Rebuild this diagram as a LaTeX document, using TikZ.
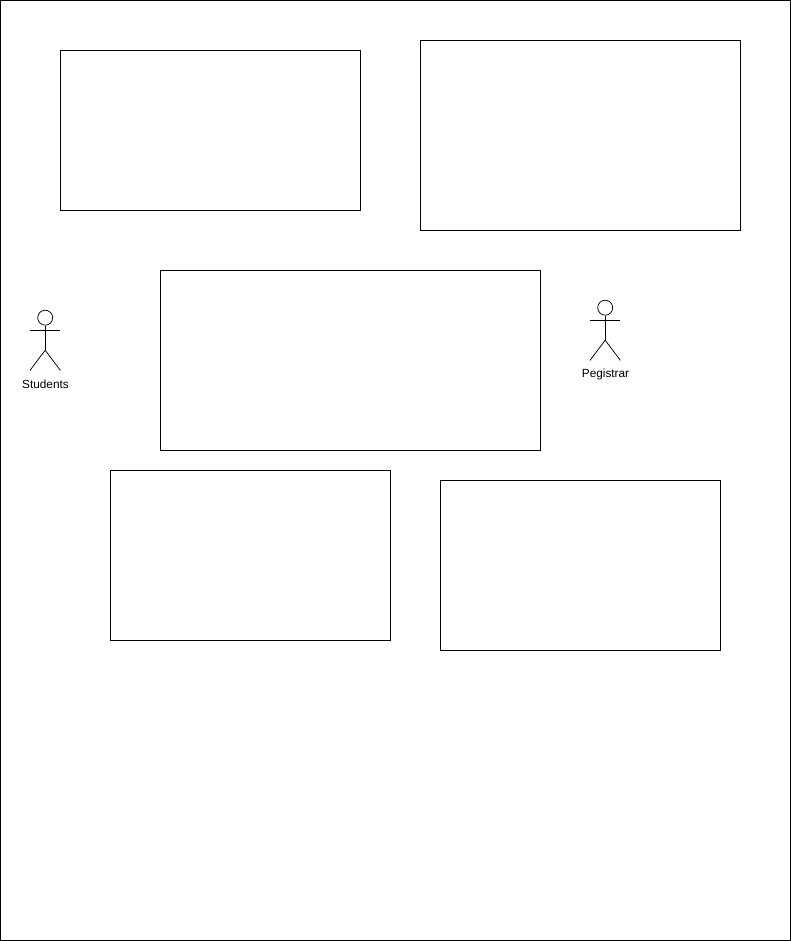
\documentclass[tikz,border=0pt]{standalone}
\usepackage{fontspec}
\setmainfont{Liberation Sans}
\usetikzlibrary{positioning}
\tikzset{
	panel/.style={draw,line width=.75pt,inner sep=0pt,anchor=north west},
	limb/.style={line width=.75pt},
	actorname/.style={font=\fontsize{11.8pt}{14pt}\selectfont,inner sep=0pt}
}
\begin{document}
\begin{tikzpicture}[x=1pt,y=-1pt]
	\useasboundingbox (0,0) rectangle (791,941);
	\node[panel,minimum width=789.6pt,minimum height=939.6pt] (frame) at (.4,.4) {};
	\node[panel,minimum width=300pt,minimum height=160pt] (topleft) at (60,50) {};
	\node[panel,minimum width=320pt,minimum height=190pt] (topright) at (420,40) {};
	\node[panel,minimum width=380pt,minimum height=180pt] (middle) at (160,270) {};
	\node[panel,minimum width=280pt,minimum height=170pt] (lowleft) at (110,470) {};
	\node[panel,minimum width=280pt,minimum height=170pt] (lowright) at (440,480) {};
	% students
	\node[draw,circle,limb,minimum size=15pt,inner sep=0pt] (shead) at (45.2,317.7) {};
	\coordinate (sarml) at (30,330.2);
	\coordinate (sarmr) at (60.4,330.2);
	\coordinate (ship) at (45.2,350.2);
	\coordinate (sfootl) at (30,370.4);
	\coordinate (sfootr) at (60.4,370.4);
	\draw[limb] (shead.south) -- (ship);
	\draw[limb] (sarml) -- (sarmr);
	\draw[limb] (sfootl) -- (ship) -- (sfootr);
	\node[actorname] (students) at (45.5,384) {Students};
	% registrar
	\node[draw,circle,limb,minimum size=15pt,inner sep=0pt] (rhead) at (605.2,307.7) {};
	\coordinate (rarml) at (590,320.2);
	\coordinate (rarmr) at (620.4,320.2);
	\coordinate (rhip) at (605.2,340.2);
	\coordinate (rfootl) at (590,360.4);
	\coordinate (rfootr) at (620.4,360.4);
	\draw[limb] (rhead.south) -- (rhip);
	\draw[limb] (rarml) -- (rarmr);
	\draw[limb] (rfootl) -- (rhip) -- (rfootr);
	\node[actorname] (registrar) at (605.5,374) {Pegistrar};
\end{tikzpicture}
\end{document}
